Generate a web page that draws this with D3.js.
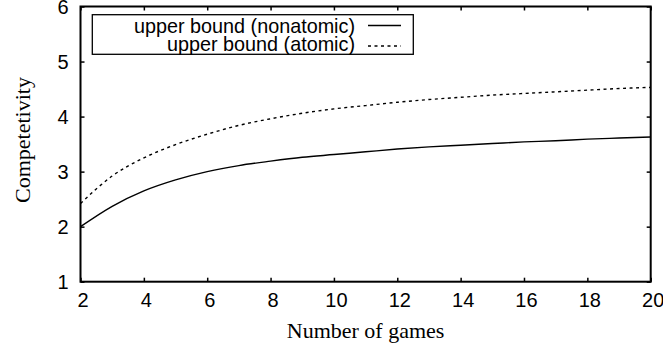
<!DOCTYPE html>
<html><head><meta charset="utf-8">
<script src="https://cdn.jsdelivr.net/npm/d3@7"></script>
<style>
html,body{margin:0;padding:0;background:#fff;}
svg{display:block;}
</style>
</head><body>
<svg id="c" width="663" height="354"></svg>
<script>
const games = [2,3,4,5,6,7,8,9,10,11,12,13,14,15,16,17,18,19,20];
const nonatomic = [2.00,2.37,2.65,2.85,3.00,3.11,3.19,3.26,3.31,3.36,3.41,3.45,3.48,3.51,3.54,3.56,3.59,3.61,3.63];
const atomic = [2.42,2.92,3.25,3.49,3.68,3.84,3.96,4.06,4.14,4.20,4.26,4.31,4.35,4.39,4.42,4.45,4.48,4.51,4.53];
const xTicks = [2,4,6,8,10,12,14,16,18,20];
const yTicks = [1,2,3,4,5,6];
const seriesNames = ["upper bound (nonatomic)","upper bound (atomic)"];

const svg = d3.select("#c");
const L = 80.5, R = 650.7, T = 6.5, B = 281.7;
const x = d3.scaleLinear().domain([2,20]).range([L,R]);
const y = d3.scaleLinear().domain([1,6]).range([B,T]);

const sans = "'Liberation Sans', Arial, Helvetica, sans-serif";
const serif = "'Liberation Serif', 'Times New Roman', serif";

function styleAxis(g){
  g.select(".domain").remove();
  g.selectAll(".tick line").attr("stroke","#000").attr("stroke-width",1.5);
  g.selectAll("text").attr("font-family",sans).attr("font-size",20).attr("fill","#000");
}
svg.append("g").attr("transform",`translate(0,${B})`)
  .call(d3.axisBottom(x).tickValues(xTicks).tickSize(-4).tickPadding(11).tickFormat(d3.format("d")))
  .call(styleAxis).call(g=>g.selectAll("text").attr("dx",2));
svg.append("g").attr("transform",`translate(0,${T})`)
  .call(d3.axisTop(x).tickValues(xTicks).tickSize(-4).tickFormat(""))
  .call(styleAxis);
svg.append("g").attr("transform",`translate(${L},0)`)
  .call(d3.axisLeft(y).tickValues(yTicks).tickSize(-4).tickPadding(12).tickFormat(d3.format("d")))
  .call(styleAxis).call(g=>g.selectAll("text").attr("dy","0.36em"));
svg.append("g").attr("transform",`translate(${R},0)`)
  .call(d3.axisRight(y).tickValues(yTicks).tickSize(-4).tickFormat(""))
  .call(styleAxis);

svg.append("rect").attr("x",L).attr("y",T).attr("width",R-L).attr("height",B-T)
  .attr("fill","none").attr("stroke","#000").attr("stroke-width",2);

const line = d3.line().x((d,i)=>x(games[i])).y(d=>y(d)).curve(d3.curveMonotoneX);
svg.append("path").datum(nonatomic).attr("d",line).attr("fill","none")
  .attr("stroke","#000").attr("stroke-width",1.4);
svg.append("path").datum(atomic).attr("d",line).attr("fill","none")
  .attr("stroke","#000").attr("stroke-width",1.4).attr("stroke-dasharray","3,3.5");

// legend
svg.append("rect").attr("x",92.3).attr("y",14.7).attr("width",321).attr("height",39.6)
  .attr("fill","#fff").attr("stroke","#000").attr("stroke-width",1.3);
const rows = [{yl:25.5,yt:32.5,dash:null},{yl:46,yt:50.5,dash:"3,3.5"}];
rows.forEach((r,i)=>{
  svg.append("text").attr("x",355).attr("y",r.yt).attr("text-anchor","end")
    .attr("font-family",sans).attr("font-size",19.8).text(seriesNames[i]);
  const l = svg.append("line").attr("x1",368).attr("x2",401).attr("y1",r.yl).attr("y2",r.yl)
    .attr("stroke","#000").attr("stroke-width",1.4);
  if(r.dash) l.attr("stroke-dasharray",r.dash);
});

svg.append("text").attr("x",(L+R)/2).attr("y",338).attr("text-anchor","middle")
  .attr("font-family",serif).attr("font-size",22).text("Number of games");
svg.append("text").attr("transform","translate(30,140) rotate(-90)").attr("text-anchor","middle")
  .attr("font-family",serif).attr("font-size",22).text("Competetivity");
</script>
</body></html>
